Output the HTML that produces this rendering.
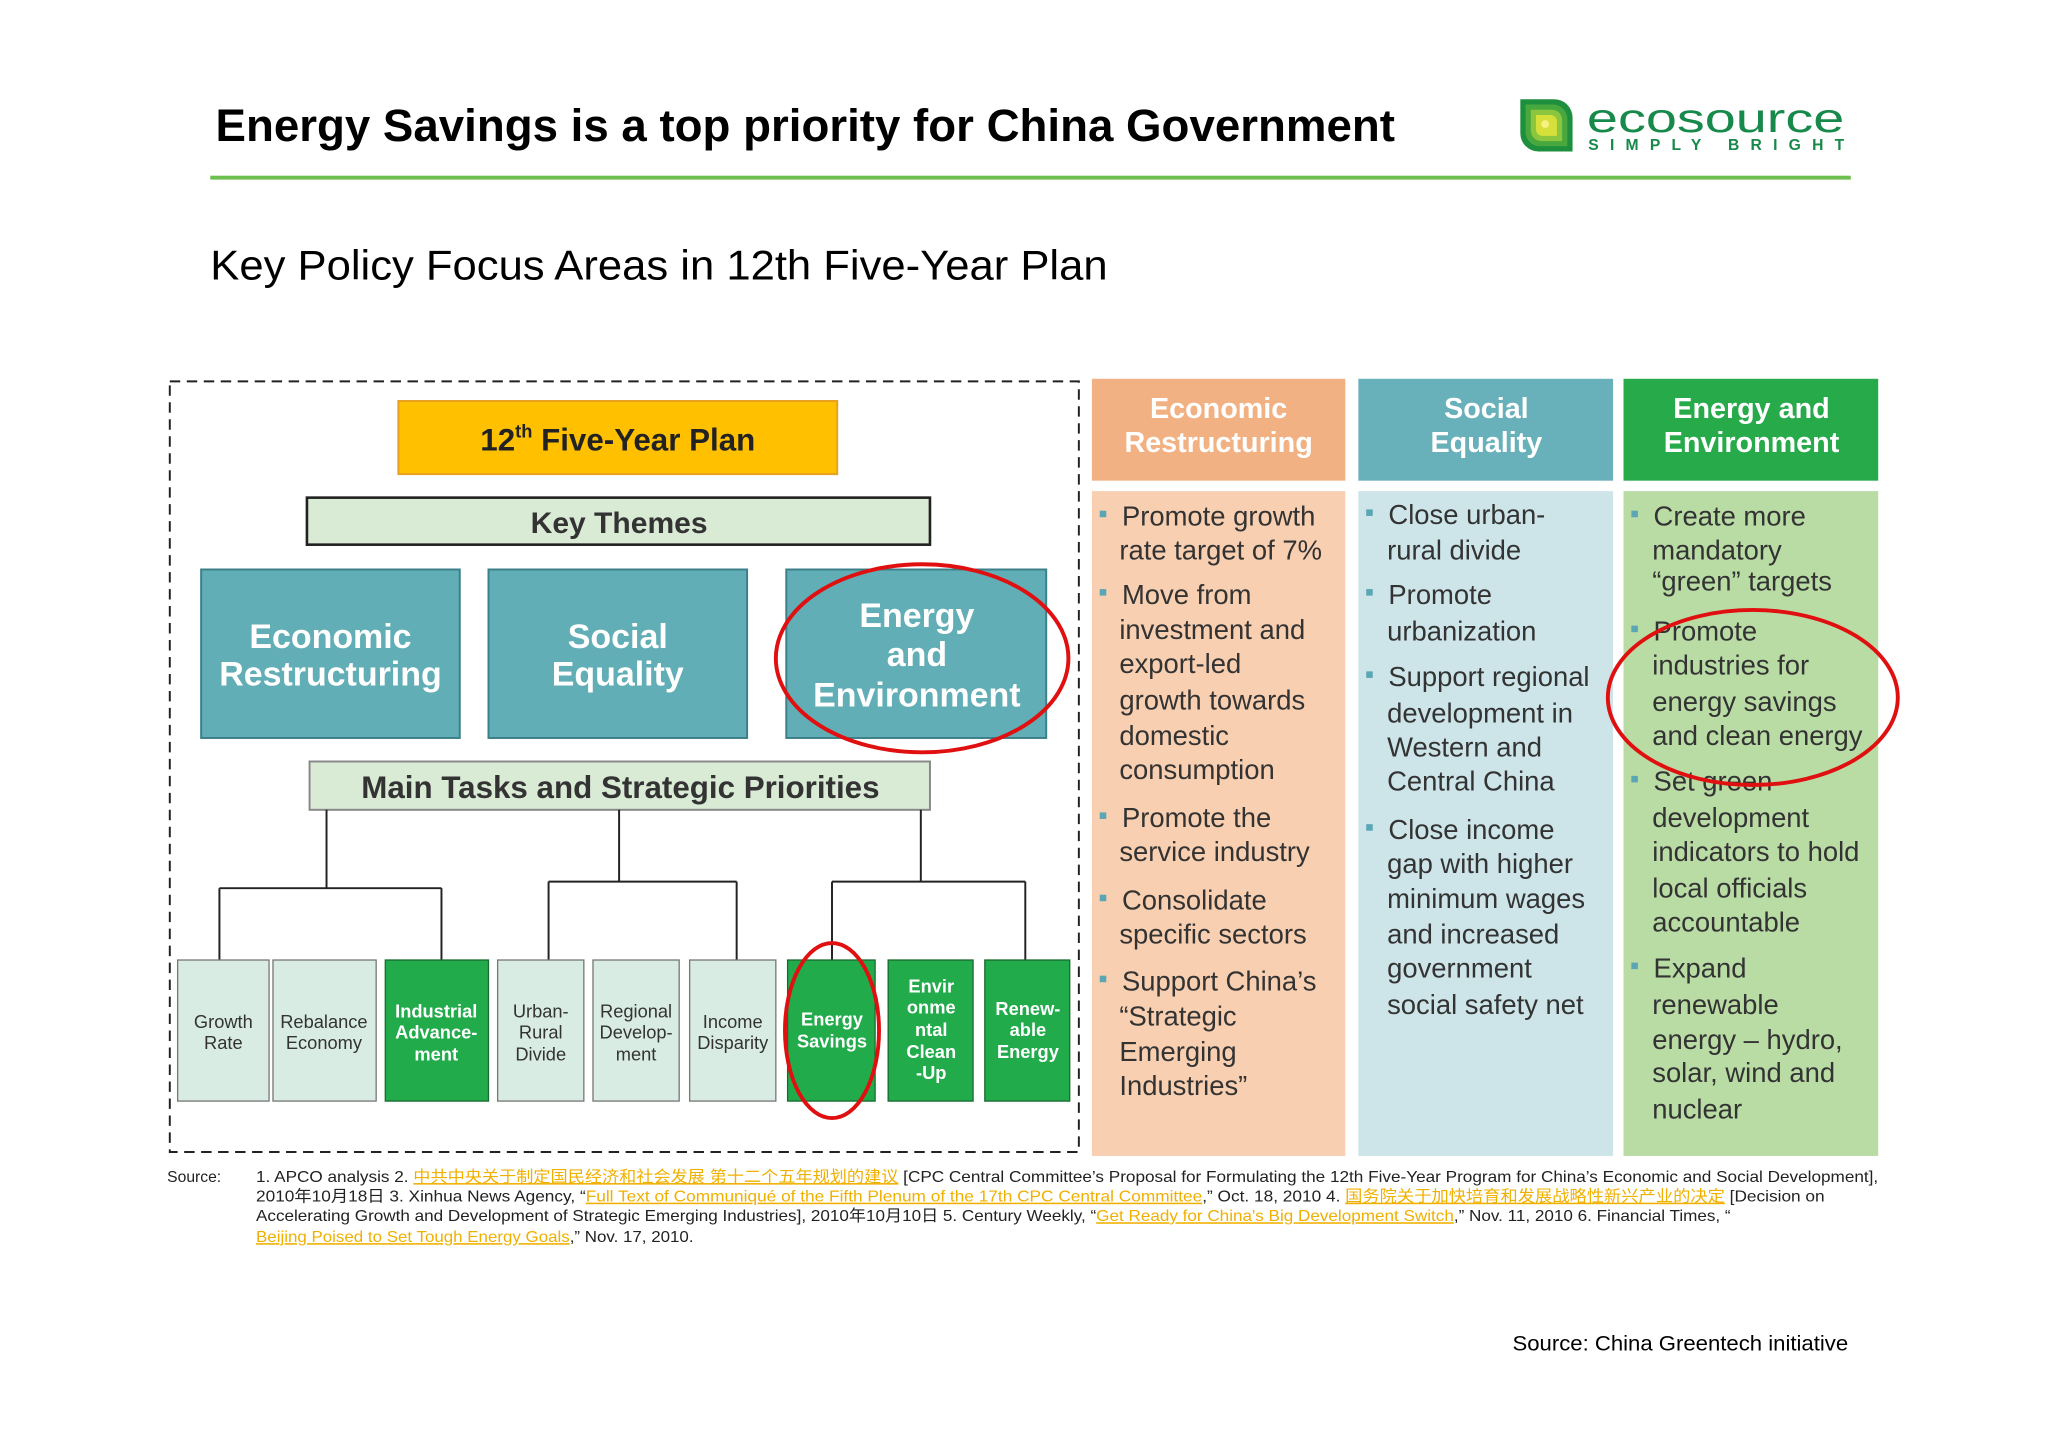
<!DOCTYPE html>
<html><head><meta charset="utf-8"><style>
html,body{margin:0;padding:0;background:#fff;}
svg{display:block;}
text{font-family:"Liberation Sans","Noto Sans CJK SC",sans-serif;}
</style></head><body>
<svg width="2048" height="1448" viewBox="0 0 1568 1108.6" xmlns="http://www.w3.org/2000/svg">
<rect width="1568" height="1108.6" fill="#fff"/>
<text x="165" y="108" font-size="35" font-weight="bold" fill="#000" textLength="903" lengthAdjust="spacingAndGlyphs">Energy Savings is a top priority for China Government</text>
<rect x="161" y="134.5" width="1256" height="3" fill="#6dbf4f"/>
<g>
 <path d="M1164 76 h26 a14 14 0 0 1 14 14 v26 h-26 a14 14 0 0 1 -14 -14z" fill="#1e8f3c"/>
 <path d="M1168 80 h21 a11 11 0 0 1 11 11 v21 h-21 a11 11 0 0 1 -11 -11z" fill="#49a83d"/>
 <path d="M1172 84 h16 a8 8 0 0 1 8 8 v16 h-16 a8 8 0 0 1 -8 -8z" fill="#8cc63f"/>
 <path d="M1176 88 h11 a5 5 0 0 1 5 5 v11 h-11 a5 5 0 0 1 -5 -5z" fill="#d6e03a"/>
 <circle cx="1183" cy="95" r="3" fill="#f8f080"/>
 <text x="1215" y="101" font-size="31" fill="#17894a" textLength="197" lengthAdjust="spacingAndGlyphs">ecosource</text>
 <text x="1216" y="115" font-size="12" font-weight="bold" fill="#17894a" textLength="196" lengthAdjust="spacing">SIMPLY  BRIGHT</text>
</g>
<text x="161" y="214" font-size="32" fill="#000" textLength="687" lengthAdjust="spacingAndGlyphs">Key Policy Focus Areas in 12th Five-Year Plan</text>

<rect x="130" y="292" width="696" height="590" fill="none" stroke="#222" stroke-width="1.5" stroke-dasharray="8,5"/>
<rect x="305" y="307" width="336" height="56" fill="#ffc000" stroke="#e8a020" stroke-width="1.5"/>
<text x="473" y="345" font-size="24" font-weight="bold" fill="#222" text-anchor="middle">12<tspan font-size="14" dy="-10">th</tspan><tspan dy="10"> Five-Year Plan</tspan></text>
<rect x="235" y="381" width="477" height="36" fill="#d9ead5" stroke="#222" stroke-width="2"/>
<text x="474" y="408" font-size="23" font-weight="bold" fill="#333" text-anchor="middle">Key Themes</text>

<g font-weight="bold" fill="#fff" font-size="26" text-anchor="middle">
 <rect x="154" y="436" width="198" height="129" fill="#62aeb6" stroke="#3b7f88" stroke-width="1.5"/>
 <text x="253" y="496">Economic</text><text x="253" y="525">Restructuring</text>
 <rect x="374" y="436" width="198" height="129" fill="#62aeb6" stroke="#3b7f88" stroke-width="1.5"/>
 <text x="473" y="496">Social</text><text x="473" y="525">Equality</text>
 <rect x="602" y="436" width="199" height="129" fill="#62aeb6" stroke="#3b7f88" stroke-width="1.5"/>
 <text x="702" y="480">Energy</text><text x="702" y="510">and</text><text x="702" y="541">Environment</text>
</g>
<ellipse cx="706" cy="504" rx="112" ry="72" fill="none" stroke="#e01010" stroke-width="3"/>

<rect x="237" y="583" width="475" height="37" fill="#d9ead5" stroke="#888" stroke-width="1.5"/>
<text x="475" y="611" font-size="24" font-weight="bold" fill="#333" text-anchor="middle">Main Tasks and Strategic Priorities</text>

<g stroke="#222" stroke-width="1.5" fill="none">
 <path d="M250 620 V680 M168 680 H338 M168 680 V735 M338 680 V735"/>
 <path d="M474 620 V675 M420 675 H564 M420 675 V735 M564 675 V735"/>
 <path d="M705 620 V675 M637 675 H785 M637 675 V735 M785 675 V735"/>
</g>

<g font-size="14" text-anchor="middle">
 <rect x="136" y="735" width="70" height="108" fill="#d9ece3" stroke="#777"/>
 <text x="171" y="787" fill="#333">Growth</text><text x="171" y="803" fill="#333">Rate</text>
 <rect x="209" y="735" width="79" height="108" fill="#d9ece3" stroke="#777"/>
 <text x="248" y="787" fill="#333">Rebalance</text><text x="248" y="803" fill="#333">Economy</text>
 <rect x="295" y="735" width="79" height="108" fill="#22ab4b" stroke="#176b30"/>
 <g fill="#fff" font-weight="bold"><text x="334" y="779">Industrial</text><text x="334" y="795">Advance-</text><text x="334" y="812">ment</text></g>
 <rect x="381" y="735" width="66" height="108" fill="#d9ece3" stroke="#777"/>
 <text x="414" y="779" fill="#333">Urban-</text><text x="414" y="795" fill="#333">Rural</text><text x="414" y="812" fill="#333">Divide</text>
 <rect x="454" y="735" width="66" height="108" fill="#d9ece3" stroke="#777"/>
 <text x="487" y="779" fill="#333">Regional</text><text x="487" y="795" fill="#333">Develop-</text><text x="487" y="812" fill="#333">ment</text>
 <rect x="528" y="735" width="66" height="108" fill="#d9ece3" stroke="#777"/>
 <text x="561" y="787" fill="#333">Income</text><text x="561" y="803" fill="#333">Disparity</text>
 <rect x="603" y="735" width="67" height="108" fill="#22ab4b" stroke="#176b30"/>
 <g fill="#fff" font-weight="bold"><text x="637" y="785">Energy</text><text x="637" y="802">Savings</text></g>
 <rect x="680" y="735" width="65" height="108" fill="#22ab4b" stroke="#176b30"/>
 <g fill="#fff" font-weight="bold"><text x="713" y="760">Envir</text><text x="713" y="776">onme</text><text x="713" y="793">ntal</text><text x="713" y="810">Clean</text><text x="713" y="826">-Up</text></g>
 <rect x="754" y="735" width="65" height="108" fill="#22ab4b" stroke="#176b30"/>
 <g fill="#fff" font-weight="bold"><text x="787" y="777">Renew-</text><text x="787" y="793">able</text><text x="787" y="810">Energy</text></g>
</g>
<ellipse cx="637" cy="789" rx="36" ry="67" fill="none" stroke="#e01010" stroke-width="3"/>

<rect x="836" y="290" width="194" height="78" fill="#f2b183"/>
<rect x="836" y="376" width="194" height="509" fill="#f8cfb0"/>
<rect x="1040" y="290" width="195" height="78" fill="#68b0ba"/>
<rect x="1040" y="376" width="195" height="509" fill="#cde5e8"/>
<rect x="1243" y="290" width="195" height="78" fill="#27aa4a"/>
<rect x="1243" y="376" width="195" height="509" fill="#b9dca5"/>
<g font-size="22" font-weight="bold" fill="#fff" text-anchor="middle">
 <text x="933" y="320">Economic</text><text x="933" y="346">Restructuring</text>
 <text x="1138" y="320">Social</text><text x="1138" y="346">Equality</text>
 <text x="1341" y="320">Energy and</text><text x="1341" y="346">Environment</text>
</g>

<g font-size="21" fill="#333" dominant-baseline="central">
 <g>
  <text x="859" y="395">Promote growth</text><text x="857" y="421">rate target of 7%</text>
  <text x="859" y="455">Move  from</text><text x="857" y="482">investment and</text><text x="857" y="508">export-led</text><text x="857" y="536">growth towards</text><text x="857" y="563">domestic</text><text x="857" y="589">consumption</text>
  <text x="859" y="626">Promote the</text><text x="857" y="652">service industry</text>
  <text x="859" y="689">Consolidate</text><text x="857" y="715">specific sectors</text>
  <text x="859" y="751">Support China’s</text><text x="857" y="778">“Strategic</text><text x="857" y="805">Emerging</text><text x="857" y="831">Industries”</text>
 </g>
 <g>
  <text x="1063" y="394">Close  urban-</text><text x="1062" y="421">rural divide</text>
  <text x="1063" y="455">Promote</text><text x="1062" y="483">urbanization</text>
  <text x="1063" y="518">Support regional</text><text x="1062" y="546">development in</text><text x="1062" y="572">Western and</text><text x="1062" y="598">Central China</text>
  <text x="1063" y="635">Close income</text><text x="1062" y="661">gap with higher</text><text x="1062" y="688">minimum wages</text><text x="1062" y="715">and increased</text><text x="1062" y="741">government</text><text x="1062" y="769">social safety net</text>
 </g>
 <g>
  <text x="1266" y="395">Create more</text><text x="1265" y="421">mandatory</text><text x="1265" y="445">“green” targets</text>
  <text x="1266" y="483">Promote</text><text x="1265" y="509">industries for</text><text x="1265" y="537">energy savings</text><text x="1265" y="563">and clean energy</text>
  <text x="1266" y="598">Set green</text><text x="1265" y="626">development</text><text x="1265" y="652">indicators to hold</text><text x="1265" y="680">local officials</text><text x="1265" y="706">accountable</text>
  <text x="1266" y="741">Expand</text><text x="1265" y="769">renewable</text><text x="1265" y="796">energy – hydro,</text><text x="1265" y="821">solar, wind and</text><text x="1265" y="849">nuclear</text>
 </g>
</g>
<g fill="#5aa6b4">
 <rect x="842" y="391" width="5" height="5"/><rect x="842" y="451" width="5" height="5"/><rect x="842" y="622" width="5" height="5"/><rect x="842" y="685" width="5" height="5"/><rect x="842" y="747" width="5" height="5"/>
 <rect x="1046" y="390" width="5" height="5"/><rect x="1046" y="451" width="5" height="5"/><rect x="1046" y="514" width="5" height="5"/><rect x="1046" y="631" width="5" height="5"/>
 <rect x="1249" y="391" width="5" height="5"/><rect x="1249" y="479" width="5" height="5"/><rect x="1249" y="594" width="5" height="5"/><rect x="1249" y="737" width="5" height="5"/>
</g>
<ellipse cx="1342" cy="534" rx="111" ry="67" fill="none" stroke="#e01010" stroke-width="3"/>

<g font-size="12" fill="#222">
 <text x="128" y="905">Source:</text>
 <text x="196" y="905" textLength="1242" lengthAdjust="spacingAndGlyphs">1. APCO analysis  2. <tspan fill="#f0b000" text-decoration="underline">中共中央关于制定国民经济和社会发展 第十二个五年规划的建议</tspan>  [CPC Central Committee’s Proposal for Formulating the 12th Five-Year Program for China’s Economic and Social Development],</text>
 <text x="196" y="920" textLength="1201" lengthAdjust="spacingAndGlyphs">2010年10月18日   3.  Xinhua News Agency, “<tspan fill="#f0b000" text-decoration="underline">Full Text of Communiqué of the Fifth Plenum of the 17th CPC Central Committee</tspan>,” Oct. 18, 2010  4. <tspan fill="#f0b000" text-decoration="underline">国务院关于加快培育和发展战略性新兴产业的决定</tspan>  [Decision on</text>
 <text x="196" y="935" textLength="1129" lengthAdjust="spacingAndGlyphs">Accelerating Growth and Development of Strategic Emerging Industries], 2010年10月10日  5. Century Weekly, “<tspan fill="#f0b000" text-decoration="underline">Get Ready for China's Big Development Switch</tspan>,” Nov. 11, 2010  6. Financial Times, “</text>
 <text x="196" y="951" textLength="335" lengthAdjust="spacingAndGlyphs"><tspan fill="#f0b000" text-decoration="underline">Beijing Poised to Set Tough Energy Goals</tspan>,” Nov. 17, 2010.</text>
</g>
<text x="1158" y="1034" font-size="16" fill="#000" textLength="257" lengthAdjust="spacingAndGlyphs">Source: China Greentech initiative</text>
</svg>
</body></html>
